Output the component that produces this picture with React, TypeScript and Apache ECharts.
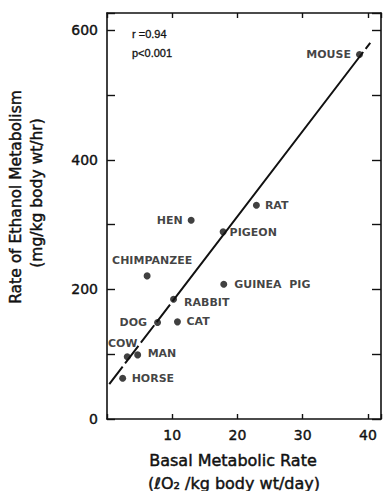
import React, { useEffect, useRef } from "react";
import * as echarts from "echarts";

// ---- data ----
const animals = ["MOUSE", "RAT", "HEN", "PIGEON", "CHIMPANZEE", "GUINEA  PIG", "RABBIT", "DOG", "CAT", "COW", "MAN", "HORSE"];
const metabolicRate = [38.7, 22.9, 12.9, 17.8, 6.15, 17.9, 10.2, 7.75, 10.8, 3.1, 4.7, 2.4];
const ethanolRate = [563, 330, 307, 289, 221, 208, 185, 149, 150, 96, 99, 63];
const fitLine: [number, number][] = [[0.35, 54], [40.35, 581]];
const xTickLabels = [10, 20, 30, 40];
const yTickLabels = [0, 200, 400, 600];
const statsLines = ["r =0.94", "p<0.001"];

// ---- label placement (style) ----
const labelPlacement: Record<string, { position: string; distance: number; offset?: number[] }> = {
  "MOUSE": { position: "left", distance: 5 },
  "RAT": { position: "right", distance: 5 },
  "HEN": { position: "left", distance: 5 },
  "PIGEON": { position: "right", distance: 3, offset: [0, 1] },
  "CHIMPANZEE": { position: "top", distance: 6, offset: [5, 0] },
  "GUINEA  PIG": { position: "right", distance: 7 },
  "RABBIT": { position: "right", distance: 7, offset: [0, 3] },
  "DOG": { position: "left", distance: 7 },
  "CAT": { position: "right", distance: 5.5 },
  "COW": { position: "top", distance: 4, offset: [-4.5, 0] },
  "MAN": { position: "right", distance: 6.5, offset: [0, -1] },
  "HORSE": { position: "right", distance: 5.5 },
};

const INK = "#111";
const FONT = "DejaVu Sans";
const heavy = { textBorderColor: INK, textBorderWidth: 0.4 };

export default function App() {
  const ref = useRef<HTMLDivElement>(null);
  useEffect(() => {
    if (!ref.current) return;
    const chart = echarts.init(ref.current, undefined, { renderer: "svg" });
    const mkLine = () => ({ show: true, onZero: false, lineStyle: { color: INK, width: 1.6 } });
    const mkTickFlip = (len: number) => ({ show: true, inside: false, length: -len, lineStyle: { color: INK, width: 1.4 } });
    const mkTick = (len: number) => ({ show: true, inside: true, length: len, lineStyle: { color: INK, width: 1.4 } });
    chart.setOption({
      animation: false,
      backgroundColor: "#fff",
      grid: { left: 107, right: -1, top: 13, bottom: 72 },
      xAxis: [
        {
          type: "value", position: "bottom", min: 0, max: 42, interval: 10,
          axisLine: mkLine(), splitLine: { show: false },
          axisTick: mkTickFlip(5),
          axisLabel: {
            margin: 9, color: INK, fontSize: 14, fontFamily: FONT, ...heavy,
            formatter: (v: number) => (xTickLabels.includes(v) ? String(v) : ""),
          },
        },
        {
          type: "value", position: "top", min: 0, max: 42, interval: 10,
          axisLine: mkLine(), splitLine: { show: false },
          axisTick: mkTickFlip(5),
          axisLabel: { show: false },
        },
      ],
      yAxis: [
        {
          type: "value", position: "left", min: 0, max: 627, interval: 100,
          axisLine: mkLine(), splitLine: { show: false },
          axisTick: mkTickFlip(8),
          axisLabel: {
            margin: 9, color: INK, fontSize: 14, fontFamily: FONT, ...heavy,
            formatter: (v: number) => (yTickLabels.includes(v) ? String(v) : ""),
          },
        },
        {
          type: "value", position: "right", min: 0, max: 627, interval: 100,
          axisLine: mkLine(), splitLine: { show: false },
          axisTick: mkTick(9),
          axisLabel: { show: false },
        },
      ],
      series: [
        {
          type: "line",
          data: fitLine,
          symbol: "none",
          z: 1,
          lineStyle: { color: INK, width: 2, type: [22, 4, 22, 4, 22, 4, 22, 4, 314, 4, 12, 100] },
        },
        {
          type: "scatter",
          z: 3,
          symbolSize: 7,
          itemStyle: { color: INK },
          data: animals.map((name, i) => {
            const p = labelPlacement[name];
            return {
              name,
              value: [metabolicRate[i], ethanolRate[i]],
              label: {
                show: true,
                formatter: "{b}",
                position: p.position,
                distance: p.distance,
                offset: p.offset || [0, 0],
                color: INK,
                fontSize: 11,
                fontWeight: "bold",
                fontFamily: FONT,
              },
            };
          }),
        },
      ],
      graphic: [
        {
          type: "text", x: 132, y: 34,
          style: { text: statsLines[0], fill: INK, fontSize: 11, fontFamily: "Liberation Sans", align: "left", verticalAlign: "middle", stroke: INK, lineWidth: 0.3 },
        },
        {
          type: "text", x: 132, y: 52.5,
          style: { text: statsLines[1], fill: INK, fontSize: 11, fontFamily: "Liberation Sans", align: "left", verticalAlign: "middle", stroke: INK, lineWidth: 0.3 },
        },
        {
          type: "text", x: 233, y: 460,
          style: { text: "Basal Metabolic Rate", fill: INK, fontSize: 16, fontFamily: FONT, align: "center", verticalAlign: "middle", stroke: INK, lineWidth: 0.45 },
        },
        {
          type: "text", x: 234, y: 483,
          style: { text: "(ℓO₂ /kg body wt/day)", fill: INK, fontSize: 16, fontFamily: FONT, align: "center", verticalAlign: "middle", stroke: INK, lineWidth: 0.45 },
        },
        {
          type: "text", x: 16, y: 197, rotation: Math.PI / 2,
          style: { text: "Rate of Ethanol Metabolism", fill: INK, fontSize: 15.5, fontFamily: FONT, align: "center", verticalAlign: "middle", stroke: INK, lineWidth: 0.45 },
        },
        {
          type: "text", x: 37, y: 193, rotation: Math.PI / 2,
          style: { text: "(mg/kg body wt/hr)", fill: INK, fontSize: 15.5, fontFamily: FONT, align: "center", verticalAlign: "middle", stroke: INK, lineWidth: 0.45 },
        },
      ],
    });
    return () => chart.dispose();
  }, []);
  return <div ref={ref} style={{ position: "fixed", left: 0, top: 0, width: 384, height: 491 }} />;
}
